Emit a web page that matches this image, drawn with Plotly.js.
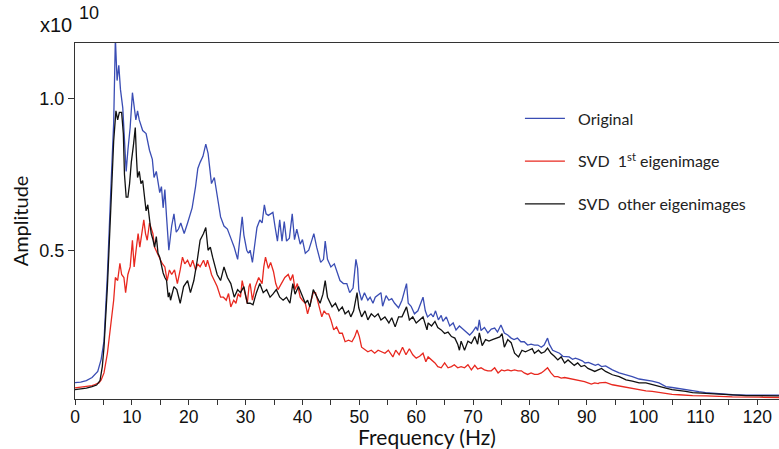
<!DOCTYPE html>
<html>
<head>
<meta charset="utf-8">
<script src="https://cdn.plot.ly/plotly-3.0.1.min.js"></script>
<style>html,body{margin:0;padding:0;background:#fff;}#chart{width:779px;height:449px;}</style>
</head>
<body>
<div id="chart"></div>
<script>
// Amplitude values in units of 1e10
const seriesNames = ["\u00a0\u00a0Original", "\u00a0\u00a0SVD\u00a0 1<sup>st</sup> eigenimage", "\u00a0\u00a0SVD\u00a0 other eigenimages"];

const freqOriginal = [0,1,2,3,4,4.6,5.1,5.7,6.3,6.8,7.1,7.4,7.7,8.0,8.4,8.7,9.0,9.3,9.7,10.1,10.4,10.7,11.0,11.3,11.9,12.5,13.1,13.6,13.9,14.3,14.9,15.2,15.5,15.8,16.1,16.5,17.0,17.4,17.8,18.2,18.6,19.2,19.8,20.3,20.6,21.2,21.6,22.0,22.5,23.0,23.4,23.7,24.0,24.5,25.0,25.6,26.2,26.8,27.4,28.0,28.6,29.1,29.4,29.7,30.2,30.5,30.8,31.2,31.7,32.0,32.5,32.9,33.3,33.6,34.0,34.4,34.8,35.2,35.6,36.0,36.4,36.8,37.2,37.7,38.2,38.6,39.0,39.6,40.0,40.5,41.1,41.6,42.0,42.5,43.2,43.7,44.0,44.4,45.0,45.6,46.1,46.6,47.2,47.8,48.3,48.9,49.4,49.7,49.9,50.4,50.9,51.5,51.9,52.4,52.8,53.8,54.1,54.7,55.2,55.7,56.2,56.9,57.5,58.3,58.6,59.1,59.7,60.3,61.2,61.6,62.0,62.6,63.0,63.4,63.9,64.4,64.7,65.3,65.9,66.5,67.0,67.6,68.2,68.8,69.4,69.9,70.5,70.8,71.1,71.4,72.0,72.6,73.2,73.8,74.3,74.9,75.5,76.1,76.7,77.2,77.8,78.4,79.0,79.6,80.2,80.8,81.4,82.0,82.5,83.1,83.4,84.0,84.6,85.2,85.8,86.3,86.9,87.5,88.0,88.6,89.2,89.7,90.3,90.9,91.5,92.0,92.6,93.3,94.5,95.7,96.9,98.0,99.2,100.4,101.5,102.7,103.9,105.0,106.2,107.4,108.6,109.7,110.9,113.3,115.6,118.0,120.3,123.8];
const ampOriginal = [0.063,0.065,0.07,0.08,0.10,0.14,0.20,0.42,0.70,0.92,1.20,1.06,1.11,1.03,0.97,0.86,0.76,0.83,0.905,1.02,0.97,0.93,0.96,0.93,0.895,0.885,0.83,0.80,0.74,0.76,0.69,0.71,0.64,0.70,0.61,0.50,0.58,0.62,0.56,0.57,0.59,0.555,0.59,0.62,0.64,0.71,0.77,0.79,0.81,0.85,0.82,0.77,0.72,0.74,0.675,0.61,0.58,0.57,0.54,0.51,0.47,0.545,0.61,0.55,0.50,0.49,0.50,0.46,0.53,0.575,0.60,0.59,0.65,0.62,0.615,0.62,0.625,0.575,0.53,0.60,0.53,0.595,0.53,0.54,0.62,0.535,0.57,0.52,0.535,0.49,0.50,0.53,0.555,0.51,0.46,0.47,0.53,0.47,0.445,0.455,0.425,0.40,0.39,0.39,0.36,0.375,0.47,0.44,0.37,0.335,0.36,0.335,0.345,0.325,0.345,0.36,0.315,0.35,0.335,0.34,0.325,0.31,0.335,0.39,0.325,0.315,0.29,0.30,0.345,0.30,0.28,0.29,0.28,0.30,0.27,0.285,0.265,0.28,0.25,0.26,0.237,0.25,0.24,0.23,0.22,0.23,0.247,0.235,0.27,0.235,0.245,0.227,0.24,0.243,0.23,0.253,0.227,0.22,0.21,0.205,0.21,0.198,0.198,0.187,0.19,0.187,0.187,0.18,0.187,0.21,0.19,0.17,0.165,0.16,0.15,0.148,0.148,0.14,0.144,0.14,0.135,0.128,0.13,0.125,0.12,0.124,0.116,0.118,0.105,0.095,0.09,0.083,0.075,0.072,0.068,0.062,0.05,0.047,0.043,0.04,0.036,0.033,0.03,0.026,0.023,0.022,0.022,0.022];

const freqFirst = [0,1,2,3,3.4,4.2,4.6,5.1,5.7,6.3,6.8,7.1,7.5,7.9,8.2,8.6,8.9,9.3,9.7,10.1,10.4,10.8,11.1,11.4,11.8,12.1,12.4,12.7,13.1,13.4,13.7,14.0,14.5,14.9,15.3,15.8,16.2,16.6,17.0,17.5,18.0,18.5,18.9,19.3,19.8,20.3,20.7,21.2,21.6,22.0,22.6,23.0,23.3,23.8,24.0,24.5,25.0,25.6,26.1,26.6,27.0,27.4,27.9,28.3,28.7,29.1,29.4,29.8,30.3,30.6,30.8,31.2,31.7,32.3,32.9,33.2,33.5,34.0,34.4,34.9,35.3,35.7,36.3,36.9,37.5,37.9,38.3,38.7,39.1,39.6,40.0,40.5,40.9,41.4,41.9,42.3,42.9,43.4,43.8,44.2,44.6,45.0,45.5,46.0,46.5,47.0,47.5,48.1,48.7,49.2,49.6,50.0,50.4,51.0,51.5,52.1,52.7,53.3,53.9,54.5,55.1,55.9,56.4,57.0,57.6,58.2,58.8,59.4,60.0,60.6,61.2,61.7,62.1,62.7,63.3,63.8,64.4,65.0,65.6,66.2,66.7,67.3,67.9,68.5,69.1,69.7,70.3,70.8,71.4,72.0,72.6,73.2,73.8,74.4,75.0,75.5,76.1,76.7,77.3,77.9,78.5,79.0,79.6,80.2,80.8,81.4,82.0,82.5,83.1,83.7,84.3,84.9,85.5,86.1,86.7,87.3,87.8,88.4,89.0,89.6,90.2,90.8,91.4,92.0,92.2,93.3,94.5,95.7,96.9,98.0,99.2,100.4,101.5,102.7,103.9,105.0,106.2,107.4,108.6,111.0,113.3,115.6,120.3,123.8];
const ampFirst = [0.046,0.048,0.05,0.053,0.056,0.062,0.072,0.095,0.16,0.26,0.335,0.41,0.40,0.457,0.42,0.41,0.36,0.42,0.445,0.533,0.445,0.51,0.555,0.51,0.565,0.60,0.555,0.533,0.59,0.575,0.555,0.51,0.49,0.477,0.457,0.445,0.40,0.435,0.42,0.435,0.39,0.435,0.477,0.455,0.467,0.445,0.467,0.435,0.455,0.445,0.467,0.445,0.467,0.435,0.42,0.40,0.38,0.345,0.345,0.335,0.357,0.313,0.335,0.325,0.357,0.345,0.40,0.365,0.325,0.38,0.39,0.335,0.38,0.41,0.39,0.445,0.477,0.44,0.46,0.43,0.39,0.37,0.39,0.41,0.42,0.40,0.42,0.37,0.39,0.345,0.335,0.325,0.29,0.325,0.36,0.36,0.313,0.28,0.30,0.29,0.29,0.27,0.237,0.247,0.226,0.226,0.198,0.203,0.198,0.215,0.237,0.215,0.18,0.17,0.165,0.17,0.16,0.17,0.165,0.16,0.17,0.148,0.17,0.155,0.18,0.155,0.175,0.155,0.144,0.15,0.16,0.132,0.148,0.138,0.128,0.116,0.112,0.128,0.112,0.116,0.122,0.112,0.116,0.112,0.122,0.105,0.12,0.108,0.112,0.105,0.102,0.102,0.112,0.095,0.105,0.102,0.105,0.102,0.105,0.102,0.102,0.095,0.09,0.095,0.09,0.09,0.095,0.102,0.112,0.095,0.083,0.083,0.078,0.08,0.078,0.075,0.072,0.072,0.07,0.066,0.062,0.058,0.062,0.06,0.062,0.064,0.056,0.052,0.046,0.042,0.04,0.036,0.034,0.03,0.027,0.024,0.023,0.021,0.02,0.019,0.017,0.016,0.015,0.014];

const freqOther = [0,1,2,3,3.8,4.4,4.8,5.1,5.7,6.3,6.8,7.2,7.5,7.8,8.2,8.5,8.7,9.0,9.3,9.6,9.9,10.3,10.6,10.8,11.0,11.3,11.6,11.9,12.2,12.5,12.8,13.1,13.4,13.7,14.0,14.3,14.6,14.9,15.2,15.5,15.8,16.1,16.4,16.6,16.8,17.4,17.9,18.5,19.1,19.8,20.3,20.9,21.5,22.0,22.6,23.0,23.4,23.8,24.2,24.6,25.0,25.6,26.2,26.8,27.4,28.0,28.6,29.1,29.7,30.3,30.8,31.3,31.9,32.5,33.1,33.7,34.3,34.8,35.4,36.0,36.6,37.2,37.8,38.3,38.7,39.3,39.9,40.5,40.9,41.3,41.9,42.5,43.1,43.6,44.0,44.4,45.2,45.8,46.4,47.0,47.5,48.1,48.5,49.0,49.6,49.9,50.4,51.0,51.5,52.1,52.7,53.3,53.8,54.5,55.2,55.7,56.3,56.9,57.5,58.3,58.8,59.4,60.0,60.6,61.2,61.9,62.1,62.7,63.3,63.8,64.4,65.0,65.6,66.2,66.8,67.3,67.6,67.9,68.5,69.1,69.7,70.3,70.8,71.1,71.6,72.2,72.8,73.4,74.0,74.7,75.1,75.5,76.1,76.7,77.3,78.0,78.6,79.2,79.8,80.4,80.8,81.5,82.0,82.6,83.1,83.7,84.3,84.9,85.5,86.1,86.7,87.3,87.8,88.4,89.0,89.6,90.2,90.8,91.4,92.0,92.6,93.3,94.5,95.7,96.9,98.0,99.2,100.4,101.5,102.7,103.9,105.0,106.2,107.4,108.6,111.0,113.3,115.6,118.0,120.3,123.8];
const ampOther = [0.04,0.042,0.045,0.05,0.055,0.07,0.116,0.18,0.38,0.64,0.86,0.96,0.93,0.955,0.955,0.885,0.75,0.675,0.675,0.72,0.79,0.85,0.905,0.81,0.74,0.76,0.72,0.73,0.675,0.63,0.65,0.60,0.555,0.535,0.51,0.545,0.49,0.477,0.445,0.425,0.41,0.40,0.345,0.36,0.335,0.38,0.37,0.325,0.38,0.40,0.36,0.40,0.467,0.533,0.555,0.575,0.50,0.51,0.477,0.445,0.42,0.40,0.445,0.41,0.39,0.345,0.37,0.36,0.38,0.325,0.325,0.32,0.36,0.39,0.36,0.37,0.345,0.355,0.37,0.345,0.335,0.345,0.325,0.39,0.355,0.38,0.35,0.325,0.335,0.313,0.37,0.35,0.325,0.355,0.40,0.345,0.313,0.325,0.30,0.313,0.29,0.30,0.28,0.30,0.36,0.31,0.28,0.30,0.27,0.29,0.28,0.29,0.27,0.28,0.26,0.277,0.247,0.28,0.28,0.313,0.27,0.28,0.26,0.27,0.28,0.237,0.26,0.25,0.265,0.245,0.237,0.225,0.23,0.215,0.21,0.19,0.17,0.20,0.17,0.20,0.193,0.215,0.19,0.227,0.185,0.205,0.20,0.205,0.21,0.214,0.225,0.18,0.205,0.195,0.16,0.148,0.17,0.165,0.17,0.175,0.16,0.17,0.16,0.165,0.177,0.16,0.15,0.138,0.148,0.128,0.138,0.128,0.12,0.128,0.116,0.12,0.11,0.105,0.10,0.105,0.11,0.10,0.089,0.083,0.072,0.068,0.062,0.062,0.056,0.05,0.045,0.04,0.038,0.034,0.03,0.027,0.024,0.021,0.02,0.02,0.019];

const yTickVals = [0.5, 1.0];
const yTickText = ["0.5", "1.0"];

const colors = ["#3a4db4", "#e8281f", "#111111"];

const traces = [
  {x: freqOriginal, y: ampOriginal, name: seriesNames[0], legendgroup: "a"},
  {x: freqFirst, y: ampFirst, name: seriesNames[1], legendgroup: "b"},
  {x: freqOther, y: ampOther, name: seriesNames[2], legendgroup: "c"}
].map((t, i) => Object.assign(t, {type: "scatter", mode: "lines", line: {color: colors[i], width: 1.3}}));

const layout = {
  width: 779, height: 449,
  margin: {l: 75, r: 0, t: 43, b: 50},
  paper_bgcolor: "#fff", plot_bgcolor: "#fff",
  showlegend: true,
  legend: {
    xref: "paper", yref: "paper",
    x: 0.632, y: 0.836, xanchor: "left", yanchor: "top",
    font: {family: "Lato, 'Noto Sans', sans-serif", size: 16, color: "#222"},
    tracegroupgap: 19, itemwidth: 40, bgcolor: "rgba(0,0,0,0)"
  },
  xaxis: {
    range: [0, 123.8], dtick: 10, tick0: 0,
    ticks: "outside", ticklen: 5, tickwidth: 1, tickcolor: "#333",
    minor: {dtick: 5, ticks: "outside", ticklen: 5, tickcolor: "#333"},
    showline: true, linecolor: "#333", linewidth: 1, mirror: true,
    showgrid: false, zeroline: false, ticklabelstandoff: -3,
    tickfont: {family: "'Liberation Sans', Arial, sans-serif", size: 17.5, color: "#111"},
    title: {text: "Frequency (Hz)", standoff: 0, font: {family: "Lato, 'Noto Sans', sans-serif", size: 21, color: "#111"}}
  },
  yaxis: {
    range: [0.009, 1.184],
    tickmode: "array", tickvals: yTickVals, ticktext: yTickText,
    ticks: "outside", ticklen: 6, tickwidth: 1, tickcolor: "#333",
    showline: true, linecolor: "#333", linewidth: 1,
    showgrid: false, zeroline: false,
    tickfont: {family: "'Liberation Sans', Arial, sans-serif", size: 18, color: "#111"},
    title: {text: "Amplitude", standoff: 5, font: {family: "Lato, 'Noto Sans', sans-serif", size: 20, color: "#111"}}
  },
  annotations: [
    {xref: "paper", yref: "paper", x: -0.0525, y: 1.015, xanchor: "left", yanchor: "bottom", text: "x10", showarrow: false,
     font: {family: "'Liberation Sans', Arial, sans-serif", size: 20, color: "#111"}},
    {xref: "paper", yref: "paper", x: 0.0033, y: 1.05, xanchor: "left", yanchor: "bottom", text: "10", showarrow: false,
     font: {family: "'Liberation Sans', Arial, sans-serif", size: 18, color: "#111"}}
  ]
};

Plotly.newPlot("chart", traces, layout, {displayModeBar: false, staticPlot: true});
</script>
</body>
</html>
